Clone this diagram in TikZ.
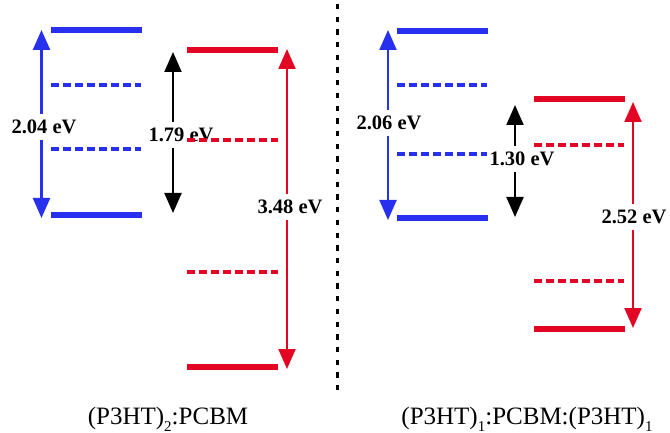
\documentclass[tikz,border=0pt]{standalone}
\usepackage{fontspec}
\setmainfont{Liberation Serif}
\usetikzlibrary{arrows.meta}

\definecolor{lvblue}{RGB}{38,48,238}
\definecolor{lvred}{RGB}{226,6,36}

\tikzset{
  solidlevel/.style={line width=6pt},
  dashlevel/.style={line width=3.2pt, dash pattern=on 7.5pt off 4.5pt},
  gaparrow/.style={line width=2.2pt, {Triangle[length=20pt,width=17pt]}-{Triangle[length=20pt,width=17pt]}, shorten <=0pt, shorten >=0pt},
  gaplabel/.style={fill=white, inner xsep=1pt, inner ysep=6.5pt,
    font=\fontsize{20.5}{22}\selectfont\bfseries},
  panellabel/.style={anchor=base, inner sep=0pt, font=\fontsize{25}{27}\selectfont},
  divider/.style={line width=2.8pt, dash pattern=on 5.3pt off 7.4pt}
}
\newcommand{\lowsub}[1]{\raisebox{-0.28em}{\fontsize{15}{15}\selectfont #1}}

\begin{document}
\begin{tikzpicture}[x=1pt, y=-1pt]
\useasboundingbox (0,0) rectangle (670,433);

% ---------- (P3HT)2:PCBM ----------
% arrow end points
\coordinate (aB1) at (41.5,30);
\coordinate (aB2) at (41.5,218);
\coordinate (aK1) at (173,52);
\coordinate (aK2) at (173,213);
\coordinate (aR1) at (287,49);
\coordinate (aR2) at (287,369);

\draw[gaparrow, lvblue] (aB1) -- node[gaplabel, text=black, xshift=2.5pt, yshift=-3pt] {2.04 eV} (aB2);
\draw[gaparrow, black] (aK1) -- node[gaplabel, xshift=8pt, yshift=-2.5pt] {1.79 eV} (aK2);
\draw[gaparrow, lvred] (aR1) -- node[gaplabel, text=black, xshift=3pt, yshift=2pt] {3.48 eV} (aR2);

% energy levels
\draw[solidlevel, lvblue] (51,30.5) -- (142,30.5);
\draw[dashlevel, lvblue] (51,85) -- (141,85);
\draw[dashlevel, lvblue] (51,149) -- (141,149);
\draw[solidlevel, lvblue] (51,215) -- (142,215);

\draw[solidlevel, lvred] (187,50) -- (278,50);
\draw[dashlevel, lvred] (187,140) -- (278,140);
\draw[dashlevel, lvred] (187,272) -- (278,272);
\draw[solidlevel, lvred] (187,367) -- (278,367);

\node[panellabel] (lblA) at (168,424) {(P3HT)\lowsub{2}:PCBM};

% ---------- separator ----------
\coordinate (sepTop) at (337.7,4);
\coordinate (sepBot) at (337.7,393);
\draw[divider] (sepTop) -- (sepBot);

% ---------- (P3HT)1:PCBM:(P3HT)1 ----------
\coordinate (bB1) at (388,30);
\coordinate (bB2) at (388,220);
\coordinate (bK1) at (515,105);
\coordinate (bK2) at (515,217);
\coordinate (bR1) at (633,102);
\coordinate (bR2) at (633,328);

\draw[gaparrow, lvblue] (bB1) -- node[gaplabel, text=black, xshift=1pt, yshift=2pt] {2.06 eV} (bB2);
\draw[gaparrow, black] (bK1) -- node[gaplabel, xshift=7pt, yshift=2pt] {1.30 eV} (bK2);
\draw[gaparrow, lvred] (bR1) -- node[gaplabel, text=black, xshift=1pt, yshift=-2pt] {2.52 eV} (bR2);

\draw[solidlevel, lvblue] (397,31) -- (488,31);
\draw[dashlevel, lvblue] (397,85) -- (487,85);
\draw[dashlevel, lvblue] (397,154) -- (487,154);
\draw[solidlevel, lvblue] (397,218) -- (488,218);

\draw[solidlevel, lvred] (534,99) -- (625,99);
\draw[dashlevel, lvred] (534,145) -- (624,145);
\draw[dashlevel, lvred] (534,281) -- (624,281);
\draw[solidlevel, lvred] (534,329) -- (625,329);

\node[panellabel] (lblB) at (527,424) {(P3HT)\lowsub{1}:PCBM:(P3HT)\lowsub{1}};
\end{tikzpicture}
\end{document}
